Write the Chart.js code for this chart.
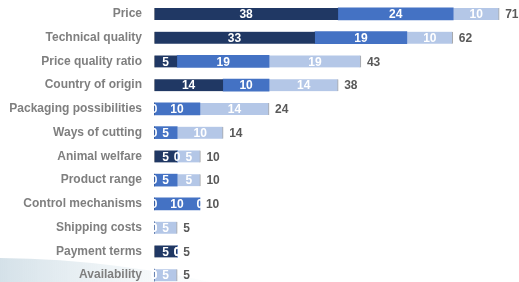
<!DOCTYPE html>
<html>
<head>
<meta charset="utf-8">
<script src="https://cdn.jsdelivr.net/npm/chart.js@4.4.1/dist/chart.umd.min.js"></script>
<style>
  html, body { margin: 0; padding: 0; background: #fff; overflow: hidden; }
  #wrap { position: relative; width: 519px; height: 289px; }
</style>
</head>
<body>
<div id="wrap"><canvas id="chart"></canvas></div>
<script>
// criteria, shares in percent (n = 21)
const categories = ['Price', 'Technical quality', 'Price quality ratio', 'Country of origin',
    'Packaging possibilities', 'Ways of cutting', 'Animal welfare', 'Product range',
    'Control mechanisms', 'Shipping costs', 'Payment terms', 'Availability'];
const darkValues   = [38.1, 33.3, 4.8, 14.3, 0,   0,   4.8, 0,   0,   0,   4.8, 0];
const mediumValues = [23.8, 19.0, 19.0, 9.5, 9.5, 4.8, 0,   4.8, 9.5, 0,   0,   0];
const lightValues  = [9.5,  9.5,  19.0, 14.3, 14.3, 9.5, 4.8, 4.8, 0,  4.8, 0,   4.8];

// value labels inside the segments + totals at the end
const labelPlugin = {
    id: 'barLabels',
    afterDatasetsDraw(chart) {
        const ctx = chart.ctx;
        ctx.save();
        ctx.font = 'bold 12px "Liberation Sans", Arial, sans-serif';
        ctx.textBaseline = 'middle';
        chart.data.datasets.forEach((ds, i) => {
            const meta = chart.getDatasetMeta(i);
            meta.data.forEach((bar, j) => {
                const x = (bar.x + bar.base) / 2;
                ctx.fillStyle = '#ffffff';
                ctx.textAlign = 'center';
                ctx.fillText(Math.round(ds.data[j]), x, bar.y + 1);
            });
        });
        const last = chart.getDatasetMeta(chart.data.datasets.length - 1);
        last.data.forEach((bar, j) => {
            const total = darkValues[j] + mediumValues[j] + lightValues[j];
            ctx.fillStyle = '#595959';
            ctx.textAlign = 'left';
            ctx.fillText(Math.round(total), bar.x + 6, bar.y + 1);
        });
        ctx.restore();
    }
};

// faint swoosh in the lower left corner
const swooshPlugin = {
    id: 'swoosh',
    beforeDraw(chart) {
        const ctx = chart.ctx;
        ctx.save();
        const g = ctx.createLinearGradient(0, 0, 240, 0);
        g.addColorStop(0, 'rgba(170,195,210,0.5)');
        g.addColorStop(1, 'rgba(220,235,240,0)');
        ctx.fillStyle = g;
        ctx.beginPath();
        ctx.moveTo(0, 258);
        ctx.quadraticCurveTo(120, 259, 240, 289);
        ctx.lineTo(0, 289);
        ctx.closePath();
        ctx.fill();
        ctx.restore();
    }
};

new Chart(document.getElementById('chart'), {
    type: 'bar',
    data: {
        labels: categories,
        datasets: [
            { data: darkValues, backgroundColor: '#203864', borderColor: '#a6a6a6', borderWidth: { left: 1 }, borderSkipped: false },
            { data: mediumValues, backgroundColor: '#4472c4', borderWidth: 0 },
            { data: lightValues, backgroundColor: '#b4c7e7', borderColor: '#a6a6a6', borderWidth: { right: 1 }, borderSkipped: false }
        ]
    },
    options: {
        indexAxis: 'y',
        responsive: true,
        maintainAspectRatio: false,
        animation: false,
        layout: { padding: { top: 2, bottom: 2, left: 0, right: 0 } },
        datasets: { bar: { barThickness: 12 } },
        plugins: { legend: { display: false }, tooltip: { enabled: false } },
        scales: {
            x: { stacked: true, display: false, min: 0, max: 75.5 },
            y: {
                stacked: true,
                grid: { display: false, drawTicks: false },
                border: { display: false },
                afterFit(scale) {
                    scale.width = 154;
                    scale.paddingTop = 0;
                    scale.paddingBottom = 0;
                },
                ticks: {
                    padding: 12,
                    color: '#7f7f7f',
                    font: { family: '"Liberation Sans", Arial, sans-serif', size: 12, weight: 'bold' }
                }
            }
        }
    },
    plugins: [swooshPlugin, labelPlugin]
});
</script>
</body>
</html>
